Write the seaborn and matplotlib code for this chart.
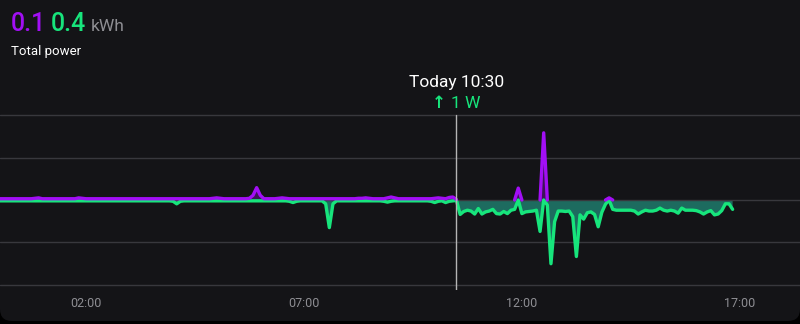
import numpy as np
import pandas as pd
import matplotlib
matplotlib.use("Agg")
import matplotlib.pyplot as plt
from matplotlib.patches import FancyBboxPatch
from matplotlib.transforms import IdentityTransform
import seaborn as sns

# ---------------- data (W, 5-minute samples from 00:00 to 16:50) ----------------
minutes = list(range(0, 1011, 5))

# before 10:30 (00:00 .. 10:25, 126 samples)
purple_before = [
    3, 3, 3, 3, 3, 3, 3, 3, 3, 3, 4, 5, 3, 3, 3, 3, 3, 3, 3, 3,
    3, 3, 5, 4, 3, 3, 3, 3, 3, 3, 3, 3, 3, 3, 3, 3, 3, 3, 3, 3,
    3, 3, 3, 3, 3, 3, 3, 3, 3, 3, 3, 3, 3, 3, 3, 3, 3, 3, 3, 4,
    5, 4, 3, 3, 3, 3, 3, 3, 3, 4, 11, 29, 11, 3, 3, 3, 3, 4, 5, 4,
    3, 3, 3, 3, 3, 3, 3, 3, 3, 3, 3, 3, 3, 3, 3, 3, 3, 3, 3, 4,
    4, 5, 4, 3, 3, 3, 3, 5, 7, 5, 3, 3, 3, 3, 3, 3, 3, 3, 3, 3,
    4, 5, 4, 3, 6, 7,
]
green_before = [
    -2, -2, -2, -2, -2, -2, -2, -2, -2, -2, -2, -2, -2, -2, -2, -2, -2, -2, -2, -2,
    -2, -2, -2, -2, -2, -2, -2, -2, -2, -2, -2, -2, -2, -2, -2, -2, -2, -2, -2, -2,
    -2, -2, -2, -2, -2, -2, -2, -2, -3, -9, -3, -2, -2, -2, -2, -2, -2, -2, -2, -2,
    -2, -2, -2, -2, -2, -2, -2, -2, -2, -2, -2, -2, -2, -2, -2, -2, -2, -2, -2, -2,
    -3, -6, -3, -2, -2, -2, -2, -2, -2, -2, -9, -65, -9, -2, -2, -2, -2, -2, -2, -2,
    -2, -2, -2, -2, -2, -2, -3, -5, -3, -2, -2, -2, -2, -2, -2, -2, -2, -2, -2, -3,
    -6, -3, -2, -6, -3, -2,
]
# from 10:30 to 16:50 (77 samples)
purple_after = [
    1, None, None, None, None, None, None, None, None, None,
    None, None, None, None, None, None, 0, 28, 0, None,
    None, None, None, 0, 158, 0, None, None, None, None,
    None, None, None, None, None, None, None, None, None, None,
    None, 0, 5, 0, None, None, None, None, None, None,
    None, None, None, None, None, None, None, None, None, None,
    None, None, None, None, None, None, None, None, None, None,
    None, None, None, None, None, None, None,
]
green_after = [
    -1, -34, -27, -24, -26, -33, -20, -33, -28, -26,
    -22, -32, -33, -27, -32, -24, -22, 0, -32, -28,
    -27, -26, -24, -74, 0, -12, -150, -51, -26, -26,
    -27, -26, -39, -133, -35, -45, -30, -28, -34, -63,
    -29, -10, 0, -22, -24, -24, -24, -24, -24, -26,
    -33, -28, -24, -26, -26, -24, -19, -24, -26, -24,
    -26, -31, -19, -24, -24, -24, -25, -28, -33, -28,
    -25, -35, -33, -25, -9, -9, -22,
]
x_ticks = [2, 7, 12, 17]
x_tick_labels = ["02:00", "07:00", "12:00", "17:00"]
y_grid = [-200, -100, 0, 100, 200]
cursor_hour = 10.5
header_values = ["0.1", "0.4"]
header_unit = "kWh"
subtitle = "Total power"
tooltip_title = "Today 10:30"
tooltip_arrow = "\u2191"
tooltip_value = "1 W"

# ---------------- frames ----------------
hours = np.array(minutes) / 60.0
purple = np.array([np.nan if v is None else v for v in purple_before + purple_after], dtype=float)
green = np.array(green_before + green_after, dtype=float)

seg = np.cumsum(np.isnan(purple))
df_p = pd.DataFrame({"h": hours, "v": purple, "seg": seg}).dropna()
df_g = pd.DataFrame({"h": hours, "v": green})

PURPLE = "#a20ff5"
GREEN = "#17e57c"
FILL = "#1d6b5f"
CARD = "#141417"

sns.set_theme(style="dark")
plt.rcParams["font.family"] = ["Roboto", "DejaVu Sans"]

W, H = 800, 324
fig = plt.figure(figsize=(W / 100, H / 100), dpi=100, facecolor="black")
card = FancyBboxPatch((0, 3), W, H + 30, boxstyle="round,pad=0,rounding_size=12",
                      transform=IdentityTransform(), facecolor=CARD, edgecolor="none", zorder=-10)
fig.patches.append(card)

ax = fig.add_axes([0, 34 / H, 1, 180 / H])
ax.set_zorder(1)
ax.set_facecolor("none")
ax.patch.set_alpha(0)
for s in ax.spines.values():
    s.set_visible(False)

ax.fill_between(hours, green, 0, where=green < 0, interpolate=True, color=FILL, lw=0, zorder=1)
ax.fill_between(hours, purple, 0, where=np.nan_to_num(purple) > 0, interpolate=True,
                color=PURPLE, alpha=0.3, lw=0, zorder=1)

sns.lineplot(data=df_g, x="h", y="v", color=GREEN, lw=2.4, ax=ax, zorder=2,
             solid_capstyle="round", solid_joinstyle="round")
sns.lineplot(data=df_p, x="h", y="v", units="seg", estimator=None, color=PURPLE, lw=2.4,
             ax=ax, zorder=2.1, solid_capstyle="round", solid_joinstyle="round")

px_per_hour = 43.6
x_left = 0.03
ax.set_xlim(x_left, x_left + W / px_per_hour)
ax.set_ylim(-211.8, 211.8)
ax.set_yticks(y_grid)
ax.set_yticklabels([])
ax.set_xticks(x_ticks)
ax.set_xticklabels(x_tick_labels)
ax.set_xlabel("")
ax.set_ylabel("")
ax.tick_params(axis="both", length=0)
ax.tick_params(axis="x", colors="#8e8e93", labelsize=9, pad=5)
ax.grid(axis="y", color="#38383d", lw=1.0)
ax.grid(axis="x", visible=False)
ax.set_axisbelow("line")

ax.axvline(cursor_hour, ymin=0, ymax=(290 - 115) / 180, color="#b5b5b5", lw=1.0, zorder=3)

def fx(px):
    return px / W

def fy(py):
    return 1 - py / H

fig.text(fx(11), fy(31), header_values[0], color=PURPLE, fontsize=18, fontweight="medium",
         va="baseline", ha="left")
fig.text(fx(51), fy(31), header_values[1], color=GREEN, fontsize=18, fontweight="medium",
         va="baseline", ha="left")
fig.text(fx(91), fy(31), header_unit, color="#8e8e93", fontsize=12.5, va="baseline", ha="left")
fig.text(fx(11), fy(55), subtitle, color="white", fontsize=9.5, va="baseline", ha="left")

fig.text(fx(457), fy(87), tooltip_title, color="white", fontsize=12.5, va="baseline", ha="center")
fig.text(fx(439), fy(108), tooltip_arrow, color=GREEN, fontsize=12, fontweight="bold",
         va="baseline", ha="center", family=["DejaVu Sans"])
fig.text(fx(451), fy(108), tooltip_value, color=GREEN, fontsize=12.5, va="baseline", ha="left")

fig.savefig("out.png", dpi=100, facecolor="black")
